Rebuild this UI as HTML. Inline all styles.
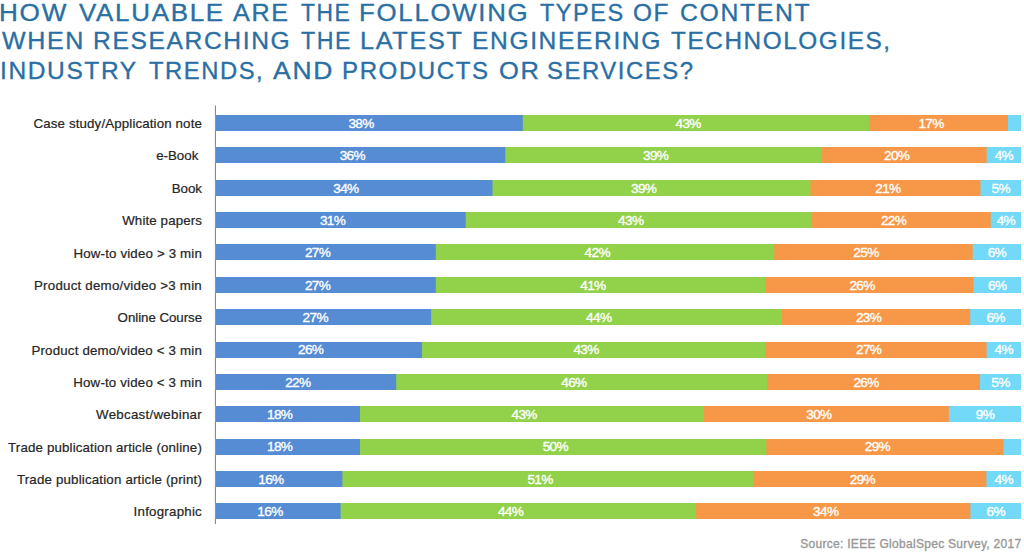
<!DOCTYPE html>
<html><head><meta charset="utf-8"><style>
html,body{margin:0;padding:0;background:#fff;width:1024px;height:556px;overflow:hidden;position:relative}
body{font-family:"Liberation Sans",sans-serif}
.chart{position:absolute;left:0;top:0}
.t{position:absolute;transform-origin:0 0;color:#2a6fa4;font-size:24.3px;line-height:28px;letter-spacing:1.6px;white-space:nowrap;-webkit-text-stroke:0.35px #2a6fa4}
.lab{position:absolute;left:0;width:202px;text-align:right;font-size:13.3px;line-height:20px;color:#262626;white-space:nowrap;-webkit-text-stroke:0.22px #262626}
.pct{position:absolute;width:60px;text-align:center;color:#fff;font-size:13.6px;line-height:17px;white-space:nowrap;letter-spacing:-0.65px;-webkit-text-stroke:0.35px #fff}
.src{position:absolute;right:2.5px;top:536.5px;font-size:12px;line-height:14px;color:#989898;white-space:nowrap;letter-spacing:0.3px;-webkit-text-stroke:0.35px #989898}
</style></head><body>
<div class="t" style="left:-0.75px;top:-1.0px;transform:scaleX(1.0754)">HOW</div>
<div class="t" style="left:78.6px;top:-1.0px;transform:scaleX(1.0672)">VALUABLE</div>
<div class="t" style="left:233.4px;top:-1.0px;transform:scaleX(1.0346)">ARE</div>
<div class="t" style="left:300.9px;top:-1.0px;transform:scaleX(0.9392)">THE</div>
<div class="t" style="left:359.37px;top:-1.0px;transform:scaleX(1.0639)">FOLLOWING</div>
<div class="t" style="left:540.0px;top:-1.0px;transform:scaleX(0.9647)">TYPES</div>
<div class="t" style="left:633.19px;top:-1.0px;transform:scaleX(1.0059)">OF</div>
<div class="t" style="left:679.68px;top:-1.0px;transform:scaleX(1.0198)">CONTENT</div>
<div class="t" style="left:2.2px;top:27.3px;transform:scaleX(1.0299)">WHEN</div>
<div class="t" style="left:93.17px;top:27.3px;transform:scaleX(1.0131)">RESEARCHING</div>
<div class="t" style="left:300.7px;top:27.3px;transform:scaleX(0.9549)">THE</div>
<div class="t" style="left:359.62px;top:27.3px;transform:scaleX(1.0396)">LATEST</div>
<div class="t" style="left:472.38px;top:27.3px;transform:scaleX(1.012)">ENGINEERING</div>
<div class="t" style="left:671.4px;top:27.3px;transform:scaleX(1.0005)">TECHNOLOGIES,</div>
<div class="t" style="left:0.18px;top:57.2px;transform:scaleX(1.0091)">INDUSTRY</div>
<div class="t" style="left:149.0px;top:57.2px;transform:scaleX(0.9781)">TRENDS,</div>
<div class="t" style="left:273.2px;top:57.2px;transform:scaleX(1.0889)">AND</div>
<div class="t" style="left:342.32px;top:57.2px;transform:scaleX(0.9903)">PRODUCTS</div>
<div class="t" style="left:498.55px;top:57.2px;transform:scaleX(1.05)">OR</div>
<div class="t" style="left:547.42px;top:57.2px;transform:scaleX(0.9816)">SERVICES?</div>
<svg class="chart" width="1024" height="556" viewBox="0 0 1024 556"><rect x="214.9" y="105.5" width="1" height="418.5" fill="#7d7d7d"/><rect x="215.80" y="115" width="805.20" height="16" fill="#73d9f8"/><rect x="215.80" y="115" width="792.20" height="16" fill="#f69848"/><rect x="215.80" y="115" width="653.40" height="16" fill="#92d24b"/><rect x="215.80" y="115" width="307.00" height="16" fill="#558cd4"/><rect x="215.80" y="147" width="805.20" height="16" fill="#73d9f8"/><rect x="215.80" y="147" width="770.90" height="16" fill="#f69848"/><rect x="215.80" y="147" width="605.90" height="16" fill="#92d24b"/><rect x="215.80" y="147" width="289.50" height="16" fill="#558cd4"/><rect x="215.80" y="180" width="805.20" height="16" fill="#73d9f8"/><rect x="215.80" y="180" width="764.70" height="16" fill="#f69848"/><rect x="215.80" y="180" width="594.60" height="16" fill="#92d24b"/><rect x="215.80" y="180" width="276.70" height="16" fill="#558cd4"/><rect x="215.80" y="212" width="805.20" height="16" fill="#73d9f8"/><rect x="215.80" y="212" width="774.90" height="16" fill="#f69848"/><rect x="215.80" y="212" width="595.60" height="16" fill="#92d24b"/><rect x="215.80" y="212" width="249.90" height="16" fill="#558cd4"/><rect x="215.80" y="244" width="805.20" height="16" fill="#73d9f8"/><rect x="215.80" y="244" width="756.90" height="16" fill="#f69848"/><rect x="215.80" y="244" width="558.50" height="16" fill="#92d24b"/><rect x="215.80" y="244" width="220.00" height="16" fill="#558cd4"/><rect x="215.80" y="277" width="805.20" height="16" fill="#73d9f8"/><rect x="215.80" y="277" width="757.70" height="16" fill="#f69848"/><rect x="215.80" y="277" width="549.90" height="16" fill="#92d24b"/><rect x="215.80" y="277" width="220.00" height="16" fill="#558cd4"/><rect x="215.80" y="309" width="805.20" height="16" fill="#73d9f8"/><rect x="215.80" y="309" width="754.40" height="16" fill="#f69848"/><rect x="215.80" y="309" width="566.20" height="16" fill="#92d24b"/><rect x="215.80" y="309" width="215.30" height="16" fill="#558cd4"/><rect x="215.80" y="342" width="805.20" height="16" fill="#73d9f8"/><rect x="215.80" y="342" width="770.80" height="16" fill="#f69848"/><rect x="215.80" y="342" width="549.90" height="16" fill="#92d24b"/><rect x="215.80" y="342" width="206.20" height="16" fill="#558cd4"/><rect x="215.80" y="374" width="805.20" height="16" fill="#73d9f8"/><rect x="215.80" y="374" width="764.20" height="16" fill="#f69848"/><rect x="215.80" y="374" width="551.40" height="16" fill="#92d24b"/><rect x="215.80" y="374" width="180.40" height="16" fill="#558cd4"/><rect x="215.80" y="406" width="805.20" height="16" fill="#73d9f8"/><rect x="215.80" y="406" width="733.10" height="16" fill="#f69848"/><rect x="215.80" y="406" width="488.10" height="16" fill="#92d24b"/><rect x="215.80" y="406" width="144.20" height="16" fill="#558cd4"/><rect x="215.80" y="439" width="805.20" height="16" fill="#73d9f8"/><rect x="215.80" y="439" width="787.70" height="16" fill="#f69848"/><rect x="215.80" y="439" width="550.50" height="16" fill="#92d24b"/><rect x="215.80" y="439" width="144.20" height="16" fill="#558cd4"/><rect x="215.80" y="471" width="805.20" height="16" fill="#73d9f8"/><rect x="215.80" y="471" width="770.60" height="16" fill="#f69848"/><rect x="215.80" y="471" width="537.60" height="16" fill="#92d24b"/><rect x="215.80" y="471" width="126.60" height="16" fill="#558cd4"/><rect x="215.80" y="503" width="805.20" height="16" fill="#73d9f8"/><rect x="215.80" y="503" width="754.60" height="16" fill="#f69848"/><rect x="215.80" y="503" width="480.30" height="16" fill="#92d24b"/><rect x="215.80" y="503" width="124.80" height="16" fill="#558cd4"/></svg>
<div class="lab" style="top:114.10px;letter-spacing:0.134px">Case study/Application note</div>
<div class="pct" style="left:331.10px;top:114.95px">38%</div>
<div class="pct" style="left:658.20px;top:114.95px">43%</div>
<div class="pct" style="left:901.10px;top:114.95px">17%</div>
<div class="lab" style="top:146.45px;letter-spacing:-0.003px">e-Book&nbsp;</div>
<div class="pct" style="left:322.35px;top:147.30px">36%</div>
<div class="pct" style="left:625.70px;top:147.30px">39%</div>
<div class="pct" style="left:866.70px;top:147.30px">20%</div>
<div class="pct" style="left:973.85px;top:147.30px">4%</div>
<div class="lab" style="top:178.80px;letter-spacing:-0.003px">Book</div>
<div class="pct" style="left:315.95px;top:179.65px">34%</div>
<div class="pct" style="left:613.65px;top:179.65px">39%</div>
<div class="pct" style="left:857.95px;top:179.65px">21%</div>
<div class="pct" style="left:970.75px;top:179.65px">5%</div>
<div class="lab" style="top:211.15px;letter-spacing:0.121px">White papers</div>
<div class="pct" style="left:302.55px;top:212.00px">31%</div>
<div class="pct" style="left:600.75px;top:212.00px">43%</div>
<div class="pct" style="left:863.55px;top:212.00px">22%</div>
<div class="pct" style="left:975.85px;top:212.00px">4%</div>
<div class="lab" style="top:243.50px;letter-spacing:0.162px">How-to video &gt; 3 min</div>
<div class="pct" style="left:287.60px;top:244.35px">27%</div>
<div class="pct" style="left:567.25px;top:244.35px">42%</div>
<div class="pct" style="left:836.00px;top:244.35px">25%</div>
<div class="pct" style="left:966.85px;top:244.35px">6%</div>
<div class="lab" style="top:275.85px;letter-spacing:0.230px">Product demo/video &gt;3 min</div>
<div class="pct" style="left:287.60px;top:276.70px">27%</div>
<div class="pct" style="left:562.95px;top:276.70px">41%</div>
<div class="pct" style="left:832.10px;top:276.70px">26%</div>
<div class="pct" style="left:967.25px;top:276.70px">6%</div>
<div class="lab" style="top:308.20px;letter-spacing:-0.045px">Online Course</div>
<div class="pct" style="left:285.25px;top:309.05px">27%</div>
<div class="pct" style="left:568.75px;top:309.05px">44%</div>
<div class="pct" style="left:838.60px;top:309.05px">23%</div>
<div class="pct" style="left:965.60px;top:309.05px">6%</div>
<div class="lab" style="top:340.55px;letter-spacing:0.178px">Product demo/video &lt; 3 min</div>
<div class="pct" style="left:280.70px;top:341.40px">26%</div>
<div class="pct" style="left:556.05px;top:341.40px">43%</div>
<div class="pct" style="left:838.65px;top:341.40px">27%</div>
<div class="pct" style="left:973.80px;top:341.40px">4%</div>
<div class="lab" style="top:372.90px;letter-spacing:0.172px">How-to video &lt; 3 min</div>
<div class="pct" style="left:267.80px;top:373.75px">22%</div>
<div class="pct" style="left:543.90px;top:373.75px">46%</div>
<div class="pct" style="left:836.10px;top:373.75px">26%</div>
<div class="pct" style="left:970.50px;top:373.75px">5%</div>
<div class="lab" style="top:405.25px;letter-spacing:0.280px">Webcast/webinar</div>
<div class="pct" style="left:249.70px;top:406.10px">18%</div>
<div class="pct" style="left:494.15px;top:406.10px">43%</div>
<div class="pct" style="left:788.90px;top:406.10px">30%</div>
<div class="pct" style="left:954.95px;top:406.10px">9%</div>
<div class="lab" style="top:437.60px;letter-spacing:0.154px">Trade publication article (online)</div>
<div class="pct" style="left:249.70px;top:438.45px">18%</div>
<div class="pct" style="left:525.35px;top:438.45px">50%</div>
<div class="pct" style="left:847.40px;top:438.45px">29%</div>
<div class="lab" style="top:469.95px;letter-spacing:0.180px">Trade publication article (print)</div>
<div class="pct" style="left:240.90px;top:470.80px">16%</div>
<div class="pct" style="left:510.10px;top:470.80px">51%</div>
<div class="pct" style="left:832.40px;top:470.80px">29%</div>
<div class="pct" style="left:973.70px;top:470.80px">4%</div>
<div class="lab" style="top:502.30px;letter-spacing:0.240px">Infographic</div>
<div class="pct" style="left:240.00px;top:503.15px">16%</div>
<div class="pct" style="left:480.55px;top:503.15px">44%</div>
<div class="pct" style="left:795.75px;top:503.15px">34%</div>
<div class="pct" style="left:965.70px;top:503.15px">6%</div>
<div class="src">Source: IEEE GlobalSpec Survey, 2017</div>
</body></html>
